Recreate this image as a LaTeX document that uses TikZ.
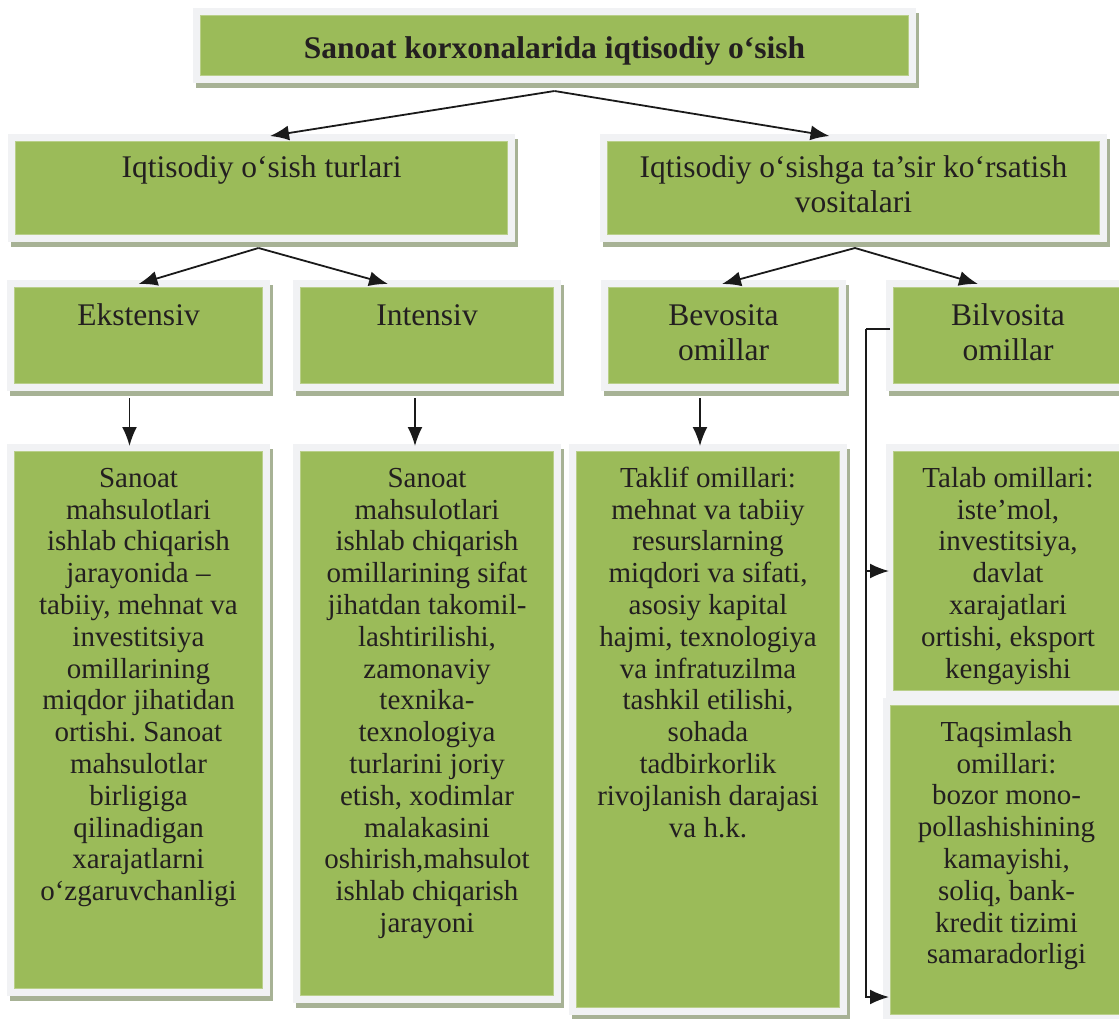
\documentclass[tikz,border=0pt]{standalone}
\usepackage{fontspec}
\setmainfont{Liberation Serif}
\usetikzlibrary{arrows.meta}
\definecolor{boxgreen}{HTML}{9BBB59}
\definecolor{greenedge}{HTML}{B9CF8A}
\definecolor{framec}{HTML}{F1F2F4}
\definecolor{shadowc}{HTML}{A7B295}
\definecolor{textc}{HTML}{231F20}
\definecolor{linec}{HTML}{1A1A1A}
\frenchspacing
\tikzset{
  frame/.style={fill=framec, inner sep=0pt, outer sep=0pt},
  head/.style={align=center, inner sep=0pt, anchor=north, text=textc, font=\fontsize{31.5}{35}\selectfont},
  body/.style={align=center, inner sep=0pt, anchor=north, text=textc, font=\fontsize{29}{31.8}\selectfont},
  arr/.style={draw=linec, line width=1.8pt, -{Latex[length=19pt,width=15pt]}},
  ln/.style={draw=linec, line width=1.8pt}
}
\newcommand\gbox[5]{%
  \fill[shadowc] (#2+3,#3+5) rectangle (#4+3,#5+5);
  \node[frame, minimum width={((#4)-(#2))*1pt}, minimum height={((#5)-(#3))*1pt}, anchor=north west] (#1) at (#2,#3) {};
  \filldraw[fill=boxgreen, draw=greenedge, line width=0.8pt] ([xshift=7.5pt,yshift=-7.5pt]#1.north west) rectangle ([xshift=-7.5pt,yshift=7.5pt]#1.south east);
}
\begin{document}
\begin{tikzpicture}[x=1pt,y=-1pt]
\useasboundingbox (0,0) rectangle (1119,1018);
% boxes
\gbox{top}{193}{8}{916}{83}
\gbox{L2a}{8}{134}{515}{242}
\gbox{L2b}{600}{134}{1107}{242}
\gbox{L3a}{7}{280}{270}{391}
\gbox{L3b}{293}{280}{561}{391}
\gbox{L3c}{601}{280}{846}{391}
\gbox{L3d}{886}{280}{1130}{391}
\gbox{L4a}{7}{444}{270}{996}
\gbox{L4b}{293}{444}{561}{1003}
\gbox{L4c}{569}{444}{847}{1015}
\gbox{L4d}{886}{444}{1130}{698}
\gbox{L4e}{883}{698}{1130}{1022}
% texts
\node[anchor=base, text=textc, font=\bfseries\fontsize{31.5}{36}\selectfont] (ttop) at ([yshift=-50pt]top.north) {Sanoat korxonalarida iqtisodiy o‘sish};
\node[head] (tL2a) at ([yshift=-19pt]L2a.north) {\rule{0pt}{24pt}Iqtisodiy o‘sish turlari};
\node[head] (tL2b) at ([yshift=-19pt]L2b.north) {\rule{0pt}{24pt}Iqtisodiy o‘sishga ta’sir ko‘rsatish\\vositalari};
\node[head] (tL3a) at ([yshift=-21pt]L3a.north) {\rule{0pt}{24pt}Ekstensiv};
\node[head] (tL3b) at ([yshift=-21pt]L3b.north) {\rule{0pt}{24pt}Intensiv};
\node[head] (tL3c) at ([yshift=-21pt]L3c.north) {\rule{0pt}{24pt}Bevosita\\omillar};
\node[head] (tL3d) at ([yshift=-21pt]L3d.north) {\rule{0pt}{24pt}Bilvosita\\omillar};
\node[body] (tL4a) at ([yshift=-19pt]L4a.north) {\rule{0pt}{24pt}Sanoat\\mahsulotlari\\ishlab chiqarish\\jarayonida –\\tabiiy, mehnat va\\investitsiya\\omillarining\\miqdor jihatidan\\ortishi. Sanoat\\mahsulotlar\\birligiga\\qilinadigan\\xarajatlarni\\o‘zgaruvchanligi};
\node[body] (tL4b) at ([yshift=-19pt]L4b.north) {\rule{0pt}{24pt}Sanoat\\mahsulotlari\\ishlab chiqarish\\omillarining sifat\\jihatdan takomil-\\lashtirilishi,\\zamonaviy\\texnika-\\texnologiya\\turlarini joriy\\etish, xodimlar\\malakasini\\oshirish,mahsulot\\ishlab chiqarish\\jarayoni};
\node[body] (tL4c) at ([yshift=-19pt]L4c.north) {\rule{0pt}{24pt}Taklif omillari:\\mehnat va tabiiy\\resurslarning\\miqdori va sifati,\\asosiy kapital\\hajmi, texnologiya\\va infratuzilma\\tashkil etilishi,\\sohada\\tadbirkorlik\\rivojlanish darajasi\\va h.k.};
\node[body] (tL4d) at ([yshift=-19pt]L4d.north) {\rule{0pt}{24pt}Talab omillari:\\iste’mol,\\investitsiya,\\davlat\\xarajatlari\\ortishi, eksport\\kengayishi};
\node[body] (tL4e) at ([yshift=-19pt]L4e.north) {\rule{0pt}{24pt}Taqsimlash\\omillari:\\bozor mono-\\pollashishining\\kamayishi,\\soliq, bank-\\kredit tizimi\\samaradorligi};
% connectors
\draw[arr] ([yshift=-8pt]top.south) -- ([xshift=8.5pt,yshift=-2pt]L2a.north);
\draw[arr] ([yshift=-8pt]top.south) -- ([xshift=-24pt,yshift=-2pt]L2b.north);
\draw[arr] ([xshift=-3pt,yshift=-6pt]L2a.south) -- ([yshift=-4pt]L3a.north);
\draw[arr] ([xshift=-3pt,yshift=-6pt]L2a.south) -- ([xshift=-39pt,yshift=-4pt]L3b.north);
\draw[arr] ([xshift=1.5pt,yshift=-6pt]L2b.south) -- ([xshift=-1.5pt,yshift=-4pt]L3c.north);
\draw[arr] ([xshift=1.5pt,yshift=-6pt]L2b.south) -- ([xshift=-30pt,yshift=-4pt]L3d.north);
\draw[arr] ([xshift=-9pt,yshift=-7pt]L3a.south) -- ([xshift=-9pt,yshift=-2pt]L4a.north);
\draw[arr] ([xshift=-12pt,yshift=-7pt]L3b.south) -- ([xshift=-12pt,yshift=-2pt]L4b.north);
\draw[arr] ([xshift=-23.5pt,yshift=-7pt]L3c.south) -- ([xshift=-8pt,yshift=-2pt]L4c.north);
\coordinate (bus) at ([xshift=-20pt,yshift=6.5pt]L3d.west);
\draw[ln] ([xshift=4pt,yshift=6.5pt]L3d.west) -- (bus);
\draw[arr] (bus) |- ([xshift=6pt,yshift=-137pt]L4e.west);
\draw[arr] (bus |- L4d.west) -- ([xshift=3pt]L4d.west);
\end{tikzpicture}
\end{document}
